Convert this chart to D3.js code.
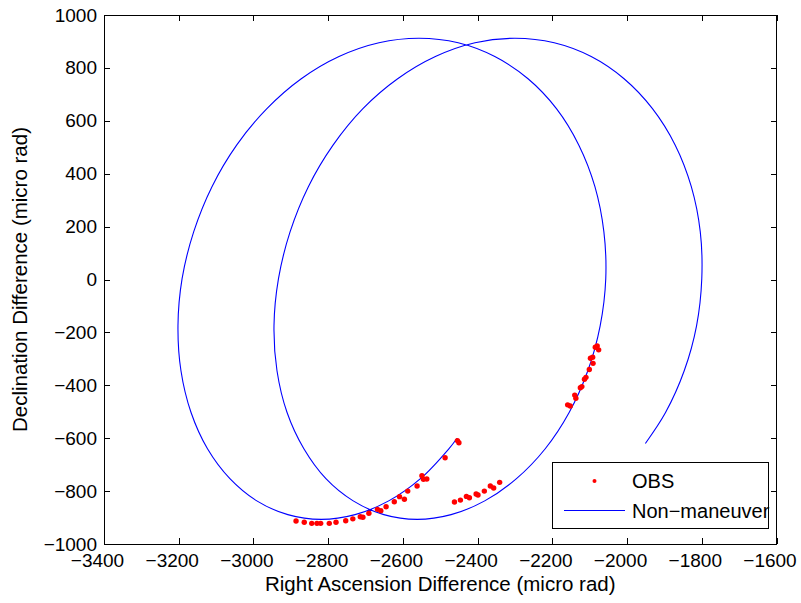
<!DOCTYPE html>
<html>
<head>
<meta charset="utf-8">
<script src="https://cdn.jsdelivr.net/npm/d3@7/dist/d3.min.js"></script>
<style>
  html, body { margin: 0; padding: 0; background: #fff; }
  svg { display: block; font-family: "Liberation Sans", Arial, Helvetica, sans-serif; }
</style>
</head>
<body>
<svg id="chart" width="801" height="603"></svg>
<script>
// Axis ticks
const xTicks = [-3400, -3200, -3000, -2800, -2600, -2400, -2200, -2000, -1800, -1600];
const yTicks = [-1000, -800, -600, -400, -200, 0, 200, 400, 600, 800, 1000];

// Predicted (non-maneuver) track: right ascension / declination differences, micro rad
const trackRA = [
  -2455, -2477, -2553, -2638, -2728, -2819, -2908, -2991, -3063, -3123,
  -3167, -3194, -3202, -3191, -3160, -3111, -3045, -2964, -2872, -2771,
  -2664, -2557, -2452, -2354, -2265, -2189, -2129, -2086, -2062, -2057,
  -2072, -2105, -2155, -2219, -2296, -2381, -2471, -2562, -2651, -2733,
  -2806, -2865, -2910, -2937, -2945, -2933, -2902, -2853, -2787, -2707,
  -2614, -2513, -2407, -2300, -2195, -2096, -2008, -1932, -1871, -1828,
  -1804, -1800, -1814, -1847, -1897, -1951
];
const trackDec = [
  -600, -640, -753, -837, -889, -907, -889, -837, -753, -640,
  -503, -345, -175, 3, 180, 351, 508, 646, 759, 843,
  895, 912, 895, 843, 759, 646, 508, 351, 180, 3,
  -175, -345, -503, -640, -753, -837, -889, -907, -889, -837,
  -753, -640, -503, -345, -175, 3, 180, 351, 508, 646,
  759, 843, 895, 912, 895, 843, 759, 646, 508, 351,
  180, 3, -175, -345, -503, -620
];

// Observations
const obsRA = [
  -2886, -2864, -2844, -2830, -2820, -2797, -2779, -2753, -2734, -2714,
  -2707, -2691, -2668, -2659, -2645, -2623, -2609, -2596, -2587, -2562,
  -2549, -2545, -2536, -2487, -2454, -2450,
  -2462, -2446, -2430, -2422, -2404, -2399, -2382, -2366, -2357, -2341,
  -2159, -2152, -2140, -2137, -2125, -2121, -2114, -2110, -2101, -2091,
  -2098, -2092, -2085, -2080, -2076
];
const obsDec = [
  -913, -918, -922, -922, -922, -922, -918, -912, -905, -897,
  -899, -884, -869, -874, -859, -840, -821, -831, -800, -781,
  -742, -755, -754, -674, -609, -617,
  -841, -834, -820, -825, -811, -815, -800, -781, -788, -767,
  -474, -478, -437, -449, -409, -405, -377, -370, -340, -317,
  -298, -294, -256, -251, -266
];

const legendLabels = ["OBS", "Non\u2212maneuver"];

const svg = d3.select("#chart");
const L = 104, R = 776.5, T = 15, B = 544;

const x = d3.scaleLinear().domain([-3400, -1600]).range([L, R]);
const y = d3.scaleLinear().domain([-1000, 1000]).range([B, T]);

const fmt = v => String(v).replace("-", "\u2212");
const FS = 20;      // legend
const HFS = 20.5;   // axis titles
const TFS = 19;     // tick labels

// Axes: inward ticks on all four sides
const gx = svg.append("g").attr("transform", `translate(0,${B})`)
  .call(d3.axisBottom(x).tickValues(xTicks).tickSizeInner(-6).tickSizeOuter(0).tickPadding(10).tickFormat(fmt));
const gxt = svg.append("g").attr("transform", `translate(0,${T})`)
  .call(d3.axisTop(x).tickValues(xTicks).tickSizeInner(-6).tickSizeOuter(0).tickFormat(""));
const gy = svg.append("g").attr("transform", `translate(${L},0)`)
  .call(d3.axisLeft(y).tickValues(yTicks).tickSizeInner(-6).tickSizeOuter(0).tickPadding(7).tickFormat(fmt));
const gyr = svg.append("g").attr("transform", `translate(${R},0)`)
  .call(d3.axisRight(y).tickValues(yTicks).tickSizeInner(-6).tickSizeOuter(0).tickFormat(""));

[gx, gxt, gy, gyr].forEach(g => {
  g.select(".domain").remove();
  g.selectAll(".tick line").attr("stroke", "#000").attr("shape-rendering", "crispEdges");
  g.selectAll(".tick text").attr("fill", "#000").style("font-size", TFS + "px")
    .style("font-family", '"Liberation Sans", Arial, sans-serif');
});
// negative x labels sit slightly left of their ticks
gx.selectAll(".tick text").attr("dx", -7);

// Plot box
svg.append("rect")
  .attr("x", L).attr("y", T).attr("width", R - L).attr("height", B - T)
  .attr("fill", "none").attr("stroke", "#000").attr("stroke-width", 1)
  .attr("shape-rendering", "crispEdges");

// Clip for the data
svg.append("clipPath").attr("id", "plotclip")
  .append("rect").attr("x", L).attr("y", T).attr("width", R - L).attr("height", B - T);
const plot = svg.append("g").attr("clip-path", "url(#plotclip)");

// Predicted track
const track = trackRA.map((v, i) => [v, trackDec[i]]);
plot.append("path")
  .datum(track)
  .attr("fill", "none")
  .attr("stroke", "#0000ff")
  .attr("stroke-width", 1.1)
  .attr("d", d3.line().x(d => x(d[0])).y(d => y(d[1])).curve(d3.curveCatmullRom.alpha(0.5)));

// Observation dots
const obs = obsRA.map((v, i) => [v, obsDec[i]]);
plot.selectAll("circle.obs")
  .data(obs)
  .join("circle")
  .attr("class", "obs")
  .attr("cx", d => x(d[0]))
  .attr("cy", d => y(d[1]))
  .attr("r", 2.7)
  .attr("fill", "#ff0000");

// Axis titles
svg.append("text")
  .attr("x", (L + R) / 2).attr("y", 591)
  .attr("text-anchor", "middle")
  .style("font-size", HFS + "px")
  .text("Right Ascension Difference (micro rad)");

svg.append("text")
  .attr("transform", `translate(27,${(T + B) / 2}) rotate(-90)`)
  .attr("text-anchor", "middle")
  .style("font-size", HFS + "px")
  .text("Declination Difference (micro rad)");

// Legend
const lg = svg.append("g");
lg.append("rect")
  .attr("x", 552).attr("y", 462).attr("width", 216).attr("height", 66)
  .attr("fill", "#fff").attr("stroke", "#000").attr("stroke-width", 1)
  .attr("shape-rendering", "crispEdges");
lg.append("circle").attr("cx", 594.5).attr("cy", 481).attr("r", 2).attr("fill", "#ff0000");
lg.append("line").attr("x1", 564).attr("x2", 625).attr("y1", 510.5).attr("y2", 510.5)
  .attr("stroke", "#0000ff").attr("stroke-width", 1);
lg.selectAll("text.lab")
  .data(legendLabels)
  .join("text")
  .attr("class", "lab")
  .attr("x", 632)
  .attr("y", (d, i) => 488 + i * 30)
  .style("font-size", FS + "px")
  .text(d => d);
</script>
</body>
</html>
